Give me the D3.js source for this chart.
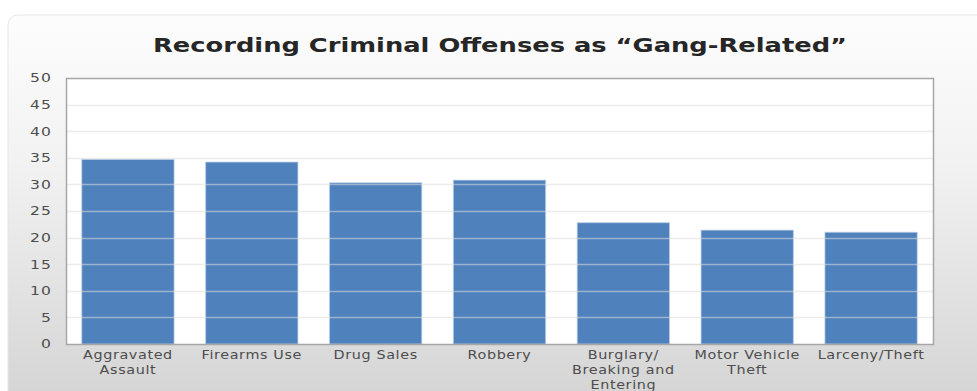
<!DOCTYPE html>
<html><head><meta charset="utf-8">
<script src="https://cdn.jsdelivr.net/npm/d3@7"></script>
<style>html,body{margin:0;padding:0;background:#fff;}svg{display:block;}</style>
</head><body>
<svg id="c" width="977" height="391"></svg>
<script>
const title = "Recording Criminal Offenses as \u201CGang-Related\u201D";
const categories = ["Aggravated\nAssault", "Firearms Use", "Drug Sales", "Robbery", "Burglary/\nBreaking and\nEntering", "Motor Vehicle\nTheft", "Larceny/Theft"];
const values = [34.7, 34.2, 30.3, 30.8, 22.8, 21.4, 21.0];
const yTicks = [0, 5, 10, 15, 20, 25, 30, 35, 40, 45, 50];

const svg = d3.select("#c");
const W = 977, H = 391;
const m = {left: 66, right: 44, top: 78, bottom: 47};
const iw = W - m.left - m.right, ih = H - m.top - m.bottom;

const defs = svg.append("defs");
const g1 = defs.append("linearGradient").attr("id", "bg").attr("x1", 0).attr("y1", 0).attr("x2", 0).attr("y2", 1);
g1.append("stop").attr("offset", "0%").attr("stop-color", "#fdfdfd");
g1.append("stop").attr("offset", "35%").attr("stop-color", "#f2f2f2");
g1.append("stop").attr("offset", "100%").attr("stop-color", "#d0d0d0");

svg.append("rect").attr("x", 8).attr("y", 15).attr("width", 1000).attr("height", 420)
  .attr("rx", 10).attr("fill", "url(#bg)").attr("stroke", "#e6e6e6").attr("stroke-width", 1);

svg.append("text").attr("x", 500).attr("y", 52).attr("text-anchor", "middle")
  .attr("font-family", "'DejaVu Sans', Verdana, sans-serif").attr("font-weight", "bold")
  .attr("font-size", 20).attr("fill", "#262626")
  .attr("textLength", 694).attr("lengthAdjust", "spacingAndGlyphs").text(title);

const x = d3.scaleBand().domain(categories).range([m.left, m.left + iw]).paddingInner(0.255).paddingOuter(0.1275);
const y = d3.scaleLinear().domain([0, 50]).range([m.top + ih, m.top]);

svg.append("rect").attr("x", m.left).attr("y", m.top).attr("width", iw).attr("height", ih).attr("fill", "#fff");

// bars
svg.append("g").selectAll("rect").data(values).join("rect")
  .attr("x", (d, i) => x(categories[i]))
  .attr("y", d => y(d))
  .attr("width", x.bandwidth())
  .attr("height", d => y(0) - y(d))
  .attr("fill", "#4f81bd").attr("stroke", "#b9cde5").attr("stroke-width", 1).attr("stroke-opacity", 0.7);

// gridlines over bars
svg.append("g").selectAll("line").data(yTicks.filter(t => t > 0 && t < 50)).join("line")
  .attr("x1", m.left).attr("x2", m.left + iw)
  .attr("y1", d => Math.round(y(d)) + 0.5).attr("y2", d => Math.round(y(d)) + 0.5)
  .attr("stroke", "#dcdcdc").attr("stroke-opacity", 0.55).attr("stroke-width", 1.5);

// plot border
svg.append("rect").attr("x", m.left + 0.5).attr("y", m.top + 0.5).attr("width", iw).attr("height", ih)
  .attr("fill", "none").attr("stroke", "#a6a6a6").attr("stroke-width", 1.5);

const font = "'DejaVu Sans', Verdana, sans-serif";
// y axis
const ya = svg.append("g").attr("transform", `translate(${m.left},0)`)
  .call(d3.axisLeft(y).tickValues(yTicks).tickSize(0).tickPadding(14));
ya.select(".domain").remove();
ya.selectAll("text").attr("x", 0).attr("transform", "translate(-14,0) scale(1.3,1)")
  .attr("font-family", font).attr("font-size", 12).attr("fill", "#4d4d4d")
  .attr("letter-spacing", "0.8px");

// x axis labels
const xa = svg.append("g").attr("transform", `translate(0,${m.top + ih})`)
  .call(d3.axisBottom(x).tickSize(0).tickPadding(0).tickFormat(""));
xa.select(".domain").remove();
xa.selectAll(".tick").each(function(d) {
  const t = d3.select(this).append("text").attr("text-anchor", "middle")
    .attr("transform", "scale(1.25,1)")
    .attr("font-family", font).attr("font-size", 11.5).attr("fill", "#4d4d4d")
    .attr("letter-spacing", "0.5px");
  d.split("\n").forEach((ln, k) => {
    t.append("tspan").attr("x", 0).attr("y", 15 + k * 15).text(ln);
  });
});
</script>
</body></html>
